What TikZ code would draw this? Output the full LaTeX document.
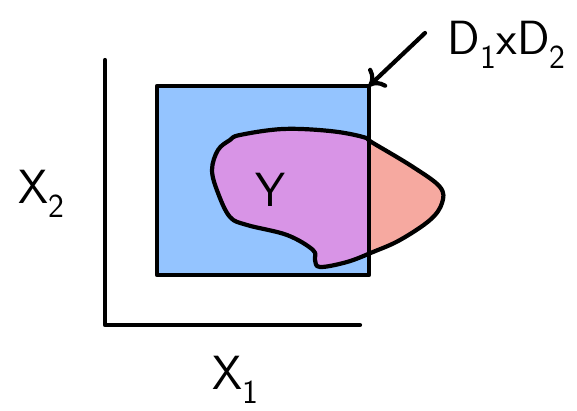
\documentclass[tikz,border=0pt]{standalone}
\usetikzlibrary{arrows.meta}

\definecolor{boxblue}{RGB}{148,196,255}
\definecolor{blobpurple}{RGB}{216,148,230}
\definecolor{blobsalmon}{RGB}{246,169,160}

\tikzset{
  ink/.style={line width=4.2pt, line cap=round, line join=round, black},
  handlabel/.style={font=\sffamily\fontsize{48}{52}\selectfont, inner sep=0pt}
}

\begin{document}
\begin{tikzpicture}[x=1pt, y=-1pt]

  % --- 0. frame ---
  \useasboundingbox (0,0) rectangle (577,411);

  % --- 1. axes ---
  \coordinate (origin) at (105,325);
  \coordinate (ytop) at (105,60);
  \coordinate (xend) at (360,325);
  \draw[ink] (ytop) -- (origin) -- (xend);

  % --- 2. the set Y (blob), salmon outside, purple inside the box ---
  \def\blobpath{plot[smooth cycle, tension=0.6] coordinates {
    (240,135) (283,129) (330,131) (363,137) (373,143) (413,167)
    (440,187) (442,203) (430,220) (400,240) (373,252) (347,262)
    (320,267) (315,260) (313,250) (287,235) (247,225) (230,217)
    (218,193) (212,170) (218,150) (230,140)}}

  \fill[blobsalmon] \blobpath;

  % box D1 x D2
  \coordinate (boxsw) at (157,275);
  \coordinate (boxne) at (369,86);
  \fill[boxblue] (boxsw) rectangle (boxne);

  \begin{scope}
    \clip (boxsw) rectangle (boxne);
    \fill[blobpurple] \blobpath;
  \end{scope}

  \draw[ink] (boxsw) rectangle (boxne);
  \draw[ink] \blobpath;

  % --- 3. labels ---
  \node[handlabel] (ylab) at (270,190) {Y};
  \node[handlabel] (x1lab) at (236,380) {X\textsubscript{1}};
  \node[handlabel] (x2lab) at (42,194) {X\textsubscript{2}};
  \node[handlabel] (dlab) at (507,45) {D\textsubscript{1}xD\textsubscript{2}};

  % --- 4. arrow to the corner ---
  \coordinate (tail) at (425,33);
  \draw[ink, -{To[length=14pt, width=26pt, line width=4.2pt]}] (tail) -- (boxne);

\end{tikzpicture}
\end{document}
